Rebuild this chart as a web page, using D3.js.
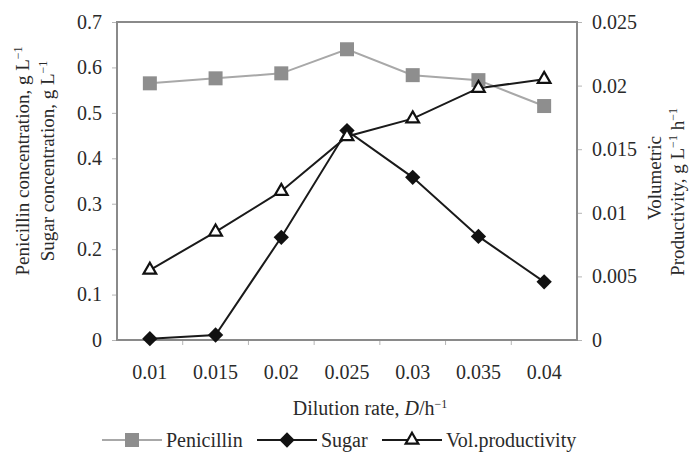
<!DOCTYPE html>
<html>
<head>
<meta charset="utf-8">
<script src="https://cdn.jsdelivr.net/npm/d3@7"></script>
<style>
  body { margin: 0; background: #fff; }
  svg text { font-family: "Liberation Serif", "Times New Roman", serif; fill: #2a2a2a; }
</style>
</head>
<body>
<svg></svg>
<script>
// data
var rates = ["0.01", "0.015", "0.02", "0.025", "0.03", "0.035", "0.04"];
var penicillin = [0.565, 0.576, 0.587, 0.640, 0.583, 0.572, 0.515];
var sugar = [0.003, 0.011, 0.226, 0.461, 0.358, 0.228, 0.128];
var volProd = [0.0055, 0.0085, 0.0117, 0.0160, 0.0174, 0.0198, 0.0205];
var leftTicks = [0, 0.1, 0.2, 0.3, 0.4, 0.5, 0.6, 0.7];
var rightTicks = [0, 0.005, 0.01, 0.015, 0.02, 0.025];

var WIDTH = 691, HEIGHT = 452;
var margin = { top: 22, right: 114, bottom: 112, left: 117 },
    width = WIDTH - margin.left - margin.right,
    height = HEIGHT - margin.top - margin.bottom;

var svg = d3.select("svg")
    .attr("width", WIDTH)
    .attr("height", HEIGHT);

var g = svg.append("g")
    .attr("transform", "translate(" + margin.left + "," + margin.top + ")");

var x = d3.scaleBand().domain(rates).range([0, width]).padding(0);
var yL = d3.scaleLinear().domain([0, 0.7]).range([height, 0]);
var yR = d3.scaleLinear().domain([0, 0.025]).range([height, 0]);
var cx = function (i) { return x(rates[i]) + x.bandwidth() / 2; };

var tickColor = "#b5b5b5", frameColor = "#8a8a8a";

// axes
var leftAxis = g.append("g")
    .call(d3.axisLeft(yL).tickValues(leftTicks).tickSize(5).tickPadding(10)
        .tickFormat(function (d) { return d === 0 ? "0" : d3.format(".1f")(d); }));
var rightAxis = g.append("g")
    .attr("transform", "translate(" + width + ",0)")
    .call(d3.axisRight(yR).tickValues(rightTicks).tickSize(5).tickPadding(10)
        .tickFormat(function (d) { return d === 0 ? "0" : String(+d.toFixed(3)); }));
var bottomAxis = g.append("g")
    .attr("transform", "translate(0," + height + ")")
    .call(d3.axisBottom(x).tickSize(0).tickPadding(25));

[leftAxis, rightAxis, bottomAxis].forEach(function (a) {
    a.select(".domain").remove();
    a.selectAll("line").attr("stroke", tickColor);
    a.selectAll("text").style("font-size", "20px")
        .style("font-family", "'Liberation Serif', serif").attr("fill", "#2a2a2a");
});

// category boundary ticks on x axis
g.append("g").selectAll("line")
    .data(rates.slice(1))
    .enter().append("line")
    .attr("x1", function (d) { return x(d); })
    .attr("x2", function (d) { return x(d); })
    .attr("y1", height)
    .attr("y2", height + 5)
    .attr("stroke", tickColor);

// frame
g.append("rect")
    .attr("width", width)
    .attr("height", height)
    .attr("fill", "none")
    .attr("stroke", frameColor)
    .attr("stroke-width", 2);

// series lines
var lineL = d3.line().x(function (d, i) { return cx(i); }).y(function (d) { return yL(d); });
var lineR = d3.line().x(function (d, i) { return cx(i); }).y(function (d) { return yR(d); });

g.append("path").datum(penicillin).attr("d", lineL)
    .attr("fill", "none").attr("stroke", "#a8a8a8").attr("stroke-width", 2);
g.append("path").datum(sugar).attr("d", lineL)
    .attr("fill", "none").attr("stroke", "#1a1a1a").attr("stroke-width", 2);
g.append("path").datum(volProd).attr("d", lineR)
    .attr("fill", "none").attr("stroke", "#1a1a1a").attr("stroke-width", 2);

var square = d3.symbol().type(d3.symbolSquare).size(196);
var diamond = d3.symbol().type(d3.symbolDiamond2).size(150);
var triangle = d3.symbol().type(d3.symbolTriangle2).size(115);

g.selectAll(".pen").data(penicillin).enter().append("path")
    .attr("d", square)
    .attr("transform", function (d, i) { return "translate(" + cx(i) + "," + yL(d) + ")"; })
    .attr("fill", "#8e8e8e");
g.selectAll(".sug").data(sugar).enter().append("path")
    .attr("d", diamond)
    .attr("transform", function (d, i) { return "translate(" + cx(i) + "," + yL(d) + ")"; })
    .attr("fill", "#111");
g.selectAll(".vol").data(volProd).enter().append("path")
    .attr("d", triangle)
    .attr("transform", function (d, i) { return "translate(" + cx(i) + "," + yR(d) + ")"; })
    .attr("fill", "#fff").attr("stroke", "#111").attr("stroke-width", 2.2);

// axis titles
function supText(sel, parts) {
    parts.forEach(function (p) {
        var t = sel.append("tspan").text(p.t);
        if (p.sup) t.attr("dy", -7).style("font-size", "12px");
        if (p.down) t.attr("dy", 7);
        if (p.it) t.style("font-style", "italic");
    });
}

var cyL = 161;
var lt1 = svg.append("text")
    .attr("transform", "translate(29," + cyL + ") rotate(-90)")
    .attr("text-anchor", "middle").style("font-size", "19px");
supText(lt1, [{ t: "Penicillin concentration, g L" }, { t: "\u22121", sup: true }]);
var lt2 = svg.append("text")
    .attr("transform", "translate(54," + cyL + ") rotate(-90)")
    .attr("text-anchor", "middle").style("font-size", "19px");
supText(lt2, [{ t: "Sugar concentration, g L" }, { t: "\u22121", sup: true }]);

svg.append("text")
    .attr("transform", "translate(661,178) rotate(-90)")
    .attr("text-anchor", "middle").style("font-size", "19px")
    .text("Volumetric");
var rt2 = svg.append("text")
    .attr("transform", "translate(684,192) rotate(-90)")
    .attr("text-anchor", "middle").style("font-size", "19px");
supText(rt2, [{ t: "Productivity, g L" }, { t: "\u22121", sup: true }, { t: " h", down: true }, { t: "\u22121", sup: true }]);

var xt = svg.append("text")
    .attr("x", 370).attr("y", 415)
    .attr("text-anchor", "middle").style("font-size", "20px");
supText(xt, [{ t: "Dilution rate, " }, { t: "D", it: true }, { t: "/h" }, { t: "\u22121", sup: true }]);

// legend
var legend = [
    { name: "Penicillin", x0: 102, stroke: "#a8a8a8", sym: square, fill: "#8e8e8e", sw: 0 },
    { name: "Sugar", x0: 257, stroke: "#1a1a1a", sym: diamond, fill: "#111", sw: 0 },
    { name: "Vol.productivity", x0: 382, stroke: "#1a1a1a", sym: triangle, fill: "#fff", sw: 2.2 }
];
var lg = svg.append("g").attr("transform", "translate(0,440)");
var items = lg.selectAll("g").data(legend).enter().append("g")
    .attr("transform", function (d) { return "translate(" + d.x0 + ",0)"; });
items.append("line").attr("x1", 0).attr("x2", 60).attr("stroke", function (d) { return d.stroke; })
    .attr("stroke-width", 2);
items.append("path").attr("d", function (d) { return d.sym(); })
    .attr("transform", "translate(30,0)")
    .attr("fill", function (d) { return d.fill; })
    .attr("stroke", function (d) { return d.sw ? "#111" : "none"; })
    .attr("stroke-width", function (d) { return d.sw; });
items.append("text").attr("x", 64).attr("dy", "0.35em")
    .style("font-size", "20px").text(function (d) { return d.name; });
</script>
</body>
</html>
